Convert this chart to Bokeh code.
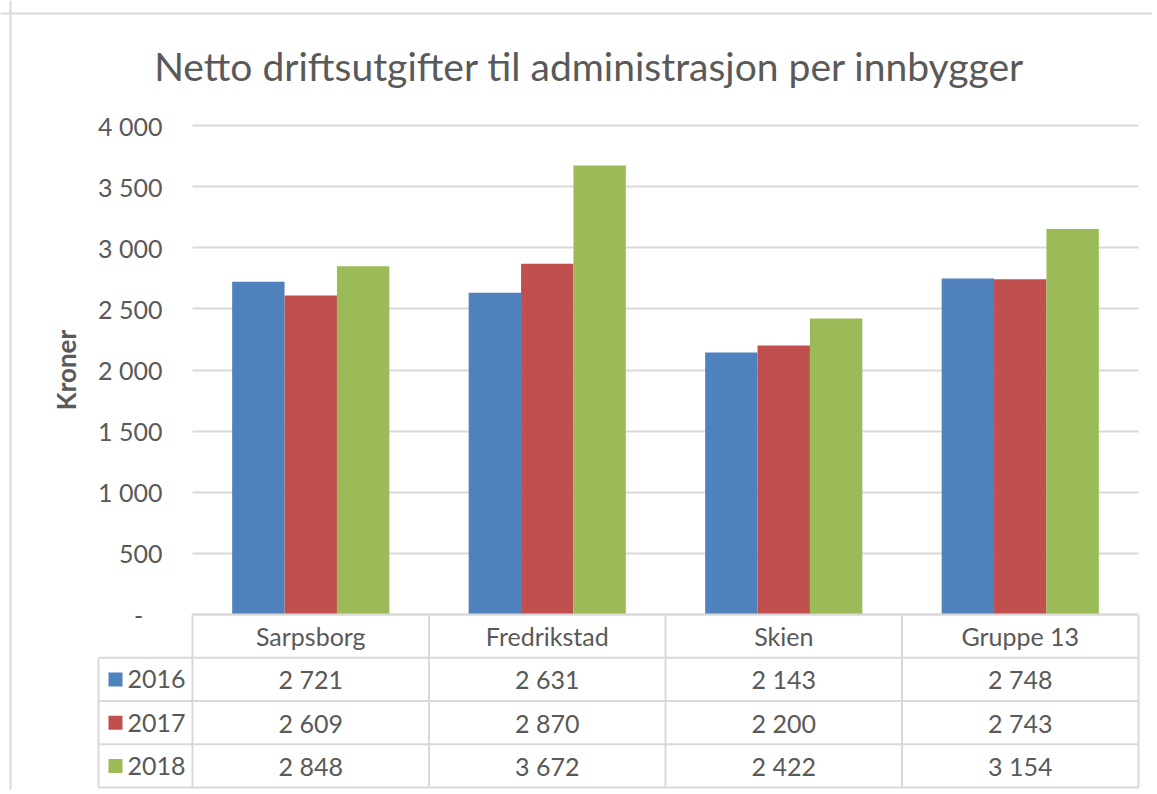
from bokeh.plotting import figure
from bokeh.models import (Range1d, FixedTicker, ColumnDataSource, LinearAxis, Grid,
                          Label, Span)
from bokeh.transform import dodge
from bokeh.core.properties import value
from bokeh.embed import file_html
from bokeh.resources import INLINE

# ---------------- data ----------------
categories = ["Sarpsborg", "Fredrikstad", "Skien", "Gruppe 13"]
years = ["2016", "2017", "2018"]
v2016 = [2721, 2631, 2143, 2748]
v2017 = [2609, 2870, 2200, 2743]
v2018 = [2848, 3672, 2422, 3154]
yticks = [0, 500, 1000, 1500, 2000, 2500, 3000, 3500, 4000]
ytick_labels = ["-\u00a0\u00a0\u00a0", "500", "1 000", "1 500", "2 000", "2 500",
                "3 000", "3 500", "4 000"]
title_text = "Netto driftsutgifter til administrasjon per innbygger"
y_title = "Kroner"

# ---------------- style / layout constants ----------------
colors = ["#4F81BD", "#C0504D", "#9BBB59"]
TXT = "#595959"
GRID = "#D9D9D9"
FONT = "Lato"
OFF = 0                   # page offset of the canvas
W, H = 1152, 790          # canvas size
PX = 236.5                # pixels per category
FL = 192                  # page x of first category's left edge
Y0 = 614                  # page y of value 0
SCALE = 489 / 4000        # px per value unit
ROWH = 43.25              # table row height in px
BAR_W = 0.2215
X0 = -94 / PX             # left edge of legend column in table

series = [v2016, v2017, v2018]
n = len(categories)
m = len(years)

def fmt(v):
    return f"{v:,}".replace(",", " ")

x_start = (OFF - FL) / PX
x_end = (OFF + W - FL) / PX
y_start = -(OFF + H - Y0) / SCALE
y_end = (Y0 - OFF) / SCALE
t_start = -(OFF + H - (Y0 + (m + 1) * ROWH)) / ROWH
t_end = (m + 1) + (Y0 - OFF) / ROWH

p = figure(width=W, height=H, x_range=Range1d(x_start, x_end),
           y_range=Range1d(y_start, y_end), output_backend="svg",
           toolbar_location=None, x_axis_type=None, y_axis_type=None,
           min_border=0)
p.extra_y_ranges = {"table": Range1d(t_start, t_end)}
p.outline_line_color = None
p.background_fill_color = "white"
p.border_fill_color = "white"

# border of the chart object
p.add_layout(Span(location=(10 - FL) / PX, dimension="height", line_color=GRID, line_width=2))
p.add_layout(Span(location=(Y0 - 13) / SCALE, dimension="width", line_color=GRID, line_width=2))

# gridlines
grid = Grid(dimension=1, ticker=FixedTicker(ticks=yticks), cross_bounds=(0, n),
            grid_line_color=GRID, grid_line_width=2)
p.add_layout(grid)

# bars
src = ColumnDataSource(dict(xc=[i + 0.5 for i in range(n)], y2016=v2016, y2017=v2017, y2018=v2018))
for k, (yr, col) in enumerate(zip(years, colors)):
    p.vbar(x=dodge("xc", (k - 1) * BAR_W), top="y" + yr, bottom=0,
           width=BAR_W, source=src, fill_color=col, line_color=None)

# y axis
ax = LinearAxis(fixed_location=0, ticker=FixedTicker(ticks=yticks), bounds=(0, 4000))
ax.major_label_overrides = {t: l for t, l in zip(yticks, ytick_labels)}
ax.axis_line_color = None
ax.major_tick_line_color = None
ax.minor_tick_line_color = None
ax.major_label_standoff = 24
ax.major_label_text_font = FONT
ax.major_label_text_font_size = "25px"
ax.major_label_text_color = TXT
ax.axis_label = y_title
ax.axis_label_text_font = FONT
ax.axis_label_text_font_size = "26px"
ax.axis_label_text_font_style = "bold"
ax.axis_label_text_color = TXT
ax.axis_label_standoff = 13
p.add_layout(ax, "left")

# title
p.add_layout(Label(x=(589 - FL) / PX, y=(Y0 - 65) / SCALE, text=title_text,
                   text_align="center", text_baseline="alphabetic", text_font=FONT,
                   text_font_size="39px", text_color=TXT))

# ---------------- data table ----------------
hx0 = [0] + [X0] * (m + 1)
hx1 = [n] * (m + 2)
hy = [m + 1] + list(range(m + 1))
p.segment(x0=hx0, y0=hy, x1=hx1, y1=hy, line_color=GRID, line_width=2, y_range_name="table")
vx = list(range(n + 1)) + [X0]
vy1 = [m + 1] * (n + 1) + [m]
p.segment(x0=vx, y0=[0] * (n + 2), x1=vx, y1=vy1, line_color=GRID, line_width=2,
          y_range_name="table")

p.text(x=[i + 0.5 for i in range(n)], y=[m + 0.5] * n, text=categories,
       text_align="center", text_baseline="middle", text_font=value(FONT),
       text_font_size="25px", text_color=TXT, y_range_name="table")
for j, vals in enumerate(series):
    p.text(x=[i + 0.5 for i in range(n)], y=[m - j - 0.5] * n,
           text=[fmt(v) for v in vals], text_align="center", text_baseline="middle",
           text_font=value(FONT), text_font_size="25px", text_color=TXT,
           y_range_name="table")
p.text(x=[0] * m, y=[m - j - 0.5 for j in range(m)], text=years, x_offset=-7,
       text_align="right", text_baseline="middle", text_font=value(FONT),
       text_font_size="25px", text_color=TXT, y_range_name="table")
p.scatter(x=[X0 + 17 / PX] * m, y=[m - j - 0.5 for j in range(m)], marker="square",
          size=14, fill_color=colors, line_color=None, y_range_name="table")

open("out.html", "w").write(file_html(p, INLINE))
